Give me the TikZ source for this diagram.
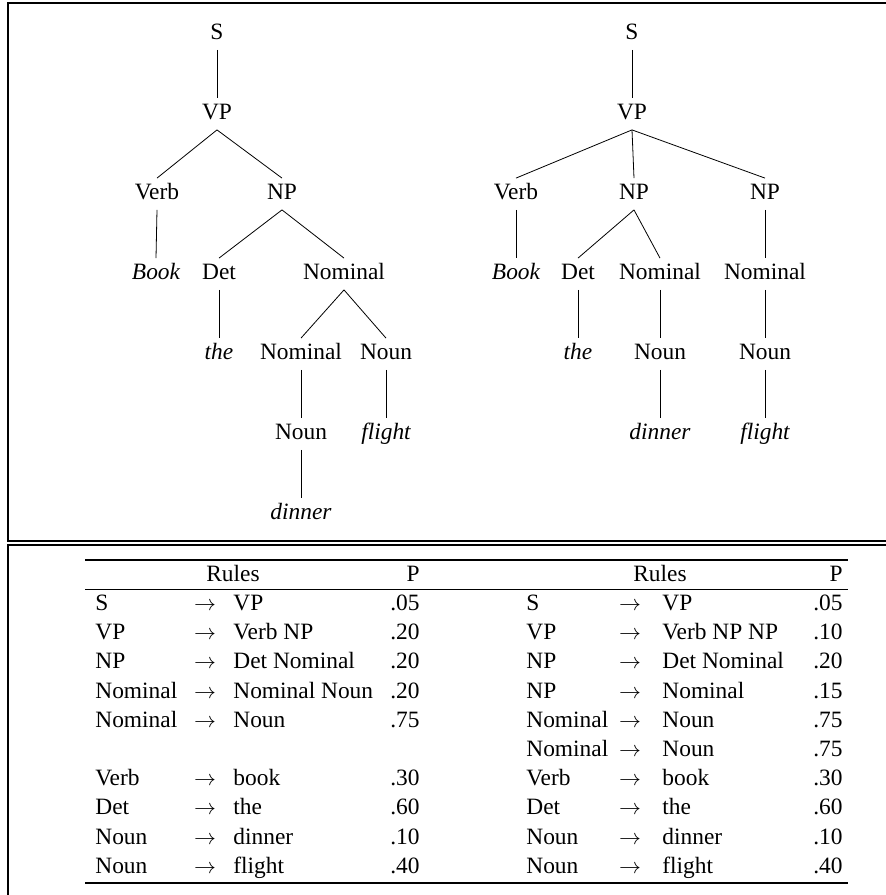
\documentclass[tikz,border=0pt]{standalone}
\usepackage{fontspec}
\setmainfont{Liberation Serif}
\usetikzlibrary{positioning}

\begin{document}
\fontsize{11.7}{14}\selectfont
\begin{tikzpicture}[
    x=0.5pt, y=-0.5pt,
    cat/.style={inner xsep=1pt, inner ysep=2.5pt, text height=8pt, text depth=2.5pt},
    word/.style={cat, font=\itshape},
    cell/.style={inner sep=0pt, text height=8pt, text depth=2.5pt},
    arr/.style={cell, font=\fontsize{10.5}{12}\selectfont},
    frame/.style={line width=0.8pt},
    branch/.style={line width=0.4pt}
]
    \useasboundingbox (0,0) rectangle (886,895);
    \clip (0,0) rectangle (886,895);

    % Boxes
    \draw[frame] (900,541) -- (8,541) -- (8,3) -- (900,3);
    \draw[frame] (900,545) -- (8,545) -- (8,900);

    % Left tree
    \node[cat] (s1) at (217,34) {S};
    \node[cat] (vp1) at (217,114) {VP};
    \node[cat] (verb1) at (157,194) {Verb};
    \node[cat] (np1) at (282,194) {NP};
    \node[word] (book1) at (156,274) {Book};
    \node[cat] (det1) at (219,274) {Det};
    \node[cat] (nom1) at (344,274) {Nominal};
    \node[word] (the1) at (219,354) {the};
    \node[cat] (nomb1) at (301,354) {Nominal};
    \node[cat] (noun1) at (386,354) {Noun};
    \node[cat] (nounb1) at (301,434) {Noun};
    \node[word] (flight1) at (386,434) {flight};
    \node[word] (dinner1) at (301,514) {dinner};

    \foreach \a/\b in {s1/vp1, vp1/verb1, vp1/np1, verb1/book1, np1/det1, np1/nom1,
                       det1/the1, nom1/nomb1, nom1/noun1, nomb1/nounb1,
                       nounb1/dinner1, noun1/flight1}
        \draw[branch] (\a.south) -- (\b.north);

    % Right tree
    \node[cat] (s2) at (632,34) {S};
    \node[cat] (vp2) at (632,114) {VP};
    \node[cat] (verb2) at (516,194) {Verb};
    \node[cat] (np2) at (634,194) {NP};
    \node[cat] (npb2) at (765,194) {NP};
    \node[word] (book2) at (516,274) {Book};
    \node[cat] (det2) at (578,274) {Det};
    \node[cat] (nom2) at (660,274) {Nominal};
    \node[cat] (nomb2) at (765,274) {Nominal};
    \node[word] (the2) at (578,354) {the};
    \node[cat] (noun2) at (660,354) {Noun};
    \node[cat] (nounb2) at (765,354) {Noun};
    \node[word] (dinner2) at (660,434) {dinner};
    \node[word] (flight2) at (765,434) {flight};

    \foreach \a/\b in {s2/vp2, vp2/verb2, vp2/np2, vp2/npb2, verb2/book2, np2/det2,
                       np2/nom2, det2/the2, nom2/noun2, noun2/dinner2,
                       npb2/nomb2, nomb2/nounb2, nounb2/flight2}
        \draw[branch] (\a.south) -- (\b.north);

    % Rules table
    \draw[line width=0.8pt] (85,560) -- (848,560);
    \draw[line width=0.5pt] (85,589) -- (848,589);
    \draw[line width=0.8pt] (85,883) -- (848,883);

    \node[cell] (rulesL) at (233,576) {Rules};
    \node[cell, anchor=east] (pL) at (420,576) {P};
    \node[cell] (rulesR) at (660,576) {Rules};
    \node[cell, anchor=east] (pR) at (843,576) {P};

    \foreach \k/\a/\b/\p in {0/S/VP/.05, 1/VP/Verb NP/.20, 2/NP/Det Nominal/.20,
                             3/Nominal/Nominal Noun/.20, 4/Nominal/Noun/.75,
                             6/Verb/book/.30, 7/Det/the/.60, 8/Noun/dinner/.10,
                             9/Noun/flight/.40} {
        \node[cell, anchor=west] (lhsL\k) at (95,{605+29.2*\k}) {\a};
        \node[arr] (arrL\k) at (205,{605+29.2*\k}) {$\rightarrow$};
        \node[cell, anchor=west] (rhsL\k) at (233,{605+29.2*\k}) {\b};
        \node[cell, anchor=east] (probL\k) at (420,{605+29.2*\k}) {\p};
    }

    \foreach \k/\a/\b/\p in {0/S/VP/.05, 1/VP/Verb NP NP/.10, 2/NP/Det Nominal/.20,
                             3/NP/Nominal/.15, 4/Nominal/Noun/.75, 5/Nominal/Noun/.75,
                             6/Verb/book/.30, 7/Det/the/.60, 8/Noun/dinner/.10,
                             9/Noun/flight/.40} {
        \node[cell, anchor=west] (lhsR\k) at (526,{605+29.2*\k}) {\a};
        \node[arr] (arrR\k) at (630,{605+29.2*\k}) {$\rightarrow$};
        \node[cell, anchor=west] (rhsR\k) at (662,{605+29.2*\k}) {\b};
        \node[cell, anchor=east] (probR\k) at (843,{605+29.2*\k}) {\p};
    }
\end{tikzpicture}
\end{document}
